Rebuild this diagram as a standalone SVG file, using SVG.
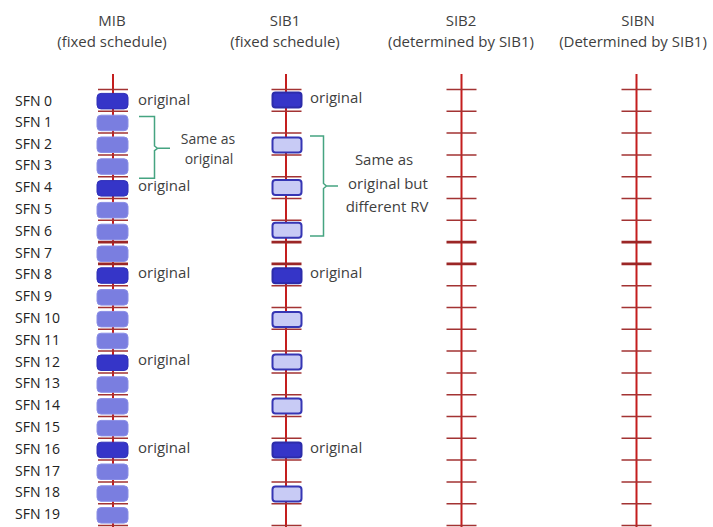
<svg xmlns="http://www.w3.org/2000/svg" xmlns:xlink="http://www.w3.org/1999/xlink" width="713" height="527" viewBox="0 0 713 527">
<style>
  text { font-family: "Open Sans", "Liberation Sans", sans-serif; fill: #3f3f3f; }
  .hdr { font-size: 15px; text-anchor: middle; }
  .sfn { font-size: 14px; fill: #222; }
  .lbl { font-size: 15px; }
  .note { text-anchor: middle; }
  .axis { stroke: #c41e1e; stroke-width: 2; fill: none; }
  .tick { stroke: #a33333; stroke-width: 1.5; fill: none; }
  .tickb { stroke: #9b2626; stroke-width: 2.6; fill: none; }
  .mibD { fill: #3535c8; stroke: #3030b8; stroke-width: 1; }
  .mibL { fill: #7a7ee0; stroke: #8a8ee6; stroke-width: 1; }
  .sibD { fill: #3535c8; stroke: #2c2caa; stroke-width: 2; }
  .sibL { fill: #c8cbf5; stroke: #3636b4; stroke-width: 2; }
  .brace { stroke: #45a481; stroke-width: 1.5; fill: none; }
</style>
<defs>
  <path id="ticks" d="M0 89.5h30M0 111.3h30M0 133.1h30M0 154.9h30M0 176.7h30M0 198.5h30M0 220.3h30M0 285.7h30M0 307.5h30M0 329.3h30M0 351.1h30M0 372.9h30M0 394.7h30M0 416.5h30M0 438.3h30M0 460.1h30M0 481.9h30M0 503.7h30M0 525.5h30"/>
  <path id="ticksb" d="M0 242.1h30M0 263.9h30"/>
  <rect id="mb" x="0" y="-7.5" width="31" height="15.5" rx="4"/>
  <rect id="sb" x="0" y="-7.5" width="29" height="15" rx="3"/>
</defs>

<g id="headers">
  <text class="hdr" x="112" y="26">MIB</text>
  <text class="hdr" x="112" y="47">(fixed schedule)</text>
  <text class="hdr" x="285" y="26">SIB1</text>
  <text class="hdr" x="285" y="47">(fixed schedule)</text>
  <text class="hdr" x="461" y="26">SIB2</text>
  <text class="hdr" x="461" y="47">(determined by SIB1)</text>
  <text class="hdr" x="638" y="26">SIBN</text>
  <text class="hdr" x="633" y="47">(Determined by SIB1)</text>
</g>

<g id="sfn-labels">
  <text class="sfn" x="15" y="105.5">SFN 0</text>
  <text class="sfn" x="15" y="126.7">SFN 1</text>
  <text class="sfn" x="15" y="148.5">SFN 2</text>
  <text class="sfn" x="15" y="170.3">SFN 3</text>
  <text class="sfn" x="15" y="192.1">SFN 4</text>
  <text class="sfn" x="15" y="213.9">SFN 5</text>
  <text class="sfn" x="15" y="235.7">SFN 6</text>
  <text class="sfn" x="15" y="257.5">SFN 7</text>
  <text class="sfn" x="15" y="279.3">SFN 8</text>
  <text class="sfn" x="15" y="301.1">SFN 9</text>
  <text class="sfn" x="15" y="322.9">SFN 10</text>
  <text class="sfn" x="15" y="344.7">SFN 11</text>
  <text class="sfn" x="15" y="366.5">SFN 12</text>
  <text class="sfn" x="15" y="388.3">SFN 13</text>
  <text class="sfn" x="15" y="410.1">SFN 14</text>
  <text class="sfn" x="15" y="431.9">SFN 15</text>
  <text class="sfn" x="15" y="453.7">SFN 16</text>
  <text class="sfn" x="15" y="475.5">SFN 17</text>
  <text class="sfn" x="15" y="497.3">SFN 18</text>
  <text class="sfn" x="15" y="519.1">SFN 19</text>
</g>

<g id="mib">
  <line class="axis" x1="113" y1="74" x2="113" y2="527"/>
  <use href="#ticks" xlink:href="#ticks" x="98" class="tick"/>
  <use href="#ticksb" xlink:href="#ticksb" x="98" class="tickb"/>
  <g transform="translate(97,0)">
    <use href="#mb" xlink:href="#mb" y="100.9" class="mibD"/>
    <use href="#mb" xlink:href="#mb" y="122.7" class="mibL"/>
    <use href="#mb" xlink:href="#mb" y="144.5" class="mibL"/>
    <use href="#mb" xlink:href="#mb" y="166.3" class="mibL"/>
    <use href="#mb" xlink:href="#mb" y="188.1" class="mibD"/>
    <use href="#mb" xlink:href="#mb" y="209.9" class="mibL"/>
    <use href="#mb" xlink:href="#mb" y="231.7" class="mibL"/>
    <use href="#mb" xlink:href="#mb" y="253.5" class="mibL"/>
    <use href="#mb" xlink:href="#mb" y="275.3" class="mibD"/>
    <use href="#mb" xlink:href="#mb" y="297.1" class="mibL"/>
    <use href="#mb" xlink:href="#mb" y="318.9" class="mibL"/>
    <use href="#mb" xlink:href="#mb" y="340.7" class="mibL"/>
    <use href="#mb" xlink:href="#mb" y="362.5" class="mibD"/>
    <use href="#mb" xlink:href="#mb" y="384.3" class="mibL"/>
    <use href="#mb" xlink:href="#mb" y="406.1" class="mibL"/>
    <use href="#mb" xlink:href="#mb" y="427.9" class="mibL"/>
    <use href="#mb" xlink:href="#mb" y="449.7" class="mibD"/>
    <use href="#mb" xlink:href="#mb" y="471.5" class="mibL"/>
    <use href="#mb" xlink:href="#mb" y="493.3" class="mibL"/>
    <use href="#mb" xlink:href="#mb" y="515.1" class="mibL"/>
  </g>
  <text class="lbl" x="138" y="104.5">original</text>
  <text class="lbl" x="138" y="190.5">original</text>
  <text class="lbl" x="138" y="278.3">original</text>
  <text class="lbl" x="138" y="364.5">original</text>
  <text class="lbl" x="138" y="452.7">original</text>
</g>

<g id="sib1">
  <line class="axis" x1="286" y1="74" x2="286" y2="527"/>
  <use href="#ticks" xlink:href="#ticks" x="271.5" class="tick"/>
  <use href="#ticksb" xlink:href="#ticksb" x="271.5" class="tickb"/>
  <g transform="translate(272.5,0)">
    <use href="#sb" xlink:href="#sb" y="100" class="sibD"/>
    <use href="#sb" xlink:href="#sb" y="145" class="sibL"/>
    <use href="#sb" xlink:href="#sb" y="187.6" class="sibL"/>
    <use href="#sb" xlink:href="#sb" y="230.2" class="sibL"/>
    <use href="#sb" xlink:href="#sb" y="275.8" class="sibD"/>
    <use href="#sb" xlink:href="#sb" y="319.4" class="sibL"/>
    <use href="#sb" xlink:href="#sb" y="362" class="sibL"/>
    <use href="#sb" xlink:href="#sb" y="406" class="sibL"/>
    <use href="#sb" xlink:href="#sb" y="450" class="sibD"/>
    <use href="#sb" xlink:href="#sb" y="494" class="sibL"/>
  </g>
  <text class="lbl" x="310" y="103">original</text>
  <text class="lbl" x="310" y="278">original</text>
  <text class="lbl" x="310" y="452.7">original</text>
</g>

<g id="sib2">
  <line class="axis" x1="461.5" y1="74" x2="461.5" y2="527"/>
  <use href="#ticks" xlink:href="#ticks" x="446.5" class="tick"/>
  <use href="#ticksb" xlink:href="#ticksb" x="446.5" class="tickb"/>
</g>

<g id="sibn">
  <line class="axis" x1="636.5" y1="74" x2="636.5" y2="527"/>
  <use href="#ticks" xlink:href="#ticks" x="621.5" class="tick"/>
  <use href="#ticksb" xlink:href="#ticksb" x="621.5" class="tickb"/>
</g>

<g id="connectors">
  <path class="brace" d="M139 116.5H154.5V146L157.5 148.3H170M157.5 148.3L154.5 150.6V178.3H139"/>
  <path class="brace" d="M310 136H323.5V183.5L326.5 186H338M326.5 186L323.5 188.5V236H310"/>
</g>

<g id="notes">
  <text class="note" x="208" y="143.5" font-size="14">Same as</text>
  <text class="note" x="209" y="163.5" font-size="14">original</text>
  <text class="note" x="384" y="165" font-size="15">Same as</text>
  <text class="note" x="388" y="189" font-size="15">original but</text>
  <text class="note" x="387" y="212" font-size="15">different RV</text>
</g>
</svg>
